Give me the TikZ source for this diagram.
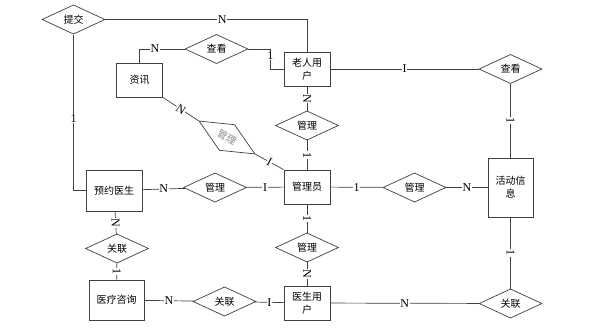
\documentclass[tikz,border=0pt]{standalone}
\usepackage{fontspec}
\setmainfont{Liberation Serif}
\newfontfamily\cjk{Noto Sans CJK SC}
\usetikzlibrary{shapes.geometric}
\definecolor{erLine}{HTML}{404040}
\definecolor{erGray}{HTML}{8A8A8A}
\tikzset{
  entBox/.style={rectangle, draw=erLine, line width=0.9pt, fill=white,
                 align=center, font=\cjk\fontsize{10}{13}\selectfont,
                 inner sep=1pt, minimum width=46pt, minimum height=34pt},
  relBox/.style={diamond, draw=erLine, line width=0.7pt, fill=white,
                 font=\cjk\fontsize{10}{13}\selectfont, inner sep=0pt,
                 minimum width=63pt, minimum height=29pt},
  link/.style={draw=erLine, line width=0.7pt},
  card/.style={fill=white, inner sep=0.6pt, font=\fontsize{12}{12}\selectfont},
  cardV/.style={card, rotate=-90},
}
\begin{document}
\begin{tikzpicture}[x=1pt, y=-1pt]
    \useasboundingbox (0,0) rectangle (601,332);
    \node[entBox] (zixun)   at (139.5,80)  {资讯};
    \node[entBox] (laoren)  at (307,69)    {老人用\\户};
    \node[entBox] (admin)   at (307,187)   {管理员};
    \node[entBox, minimum width=56pt, minimum height=41pt] (yuyue) at (114,190.5) {预约医生};
    \node[entBox, minimum width=45pt, minimum height=59pt] (huodong) at (510.5,187.5) {活动信\\息};
    \node[entBox, minimum width=55pt, minimum height=40pt] (yiliao) at (116.5,300) {医疗咨询};
    \node[entBox] (yisheng) at (307,303)   {医生用\\户};
    \node[relBox] (tijiao)    at (73.5,19.5)  {提交};
    \node[relBox] (chakanA)   at (216.5,49)   {查看};
    \node[relBox] (chakanB)   at (510.5,69)   {查看};
    \node[relBox] (guanliA)   at (307,125.5)  {管理};
    \node[relBox] (guanliB)   at (215,187.5)  {管理};
    \node[relBox] (guanliC)   at (414.5,187.5) {管理};
    \node[relBox] (guanliD)   at (307,247.5)  {管理};
    \node[relBox] (guanlianA) at (117,248.5)  {关联};
    \node[relBox] (guanlianB) at (224.5,301.5) {关联};
    \node[relBox] (guanlianC) at (510.5,303.5) {关联};
    \node[relBox, rotate=-30.5, minimum width=65pt, minimum height=30pt,
          text=erGray] (tilt) at (227,137.5) {管理};
    \draw[link] (tijiao.east) -| node[card, pos=0.29] {N} (laoren.north);
    \draw[link] (tijiao.south) |- node[card, pos=0.27] {1} (yuyue.west);
    \draw[link] (chakanA.west) -| node[card, pos=0.33] {N} (zixun.north);
    \draw[link] (chakanA.east) -- ++(22,0) |- node[card, pos=0.17] {1} (laoren.west);
    \draw[link] (laoren) -- node[card] {I} (chakanB);
    \draw[link] (chakanB) -- node[cardV] {1} (huodong);
    \draw[link] (laoren) -- node[cardV] {N} (guanliA);
    \draw[link] (guanliA) -- node[cardV] {1} (admin);
    \draw[link] (zixun.south east) -- node[card, sloped] {N} (tilt.west);
    \draw[link] (tilt.east) -- node[card, sloped] {I} (admin.north west);
    \draw[link] (yuyue) -- node[card] {N} (guanliB);
    \draw[link] (guanliB) -- node[card] {I} (admin);
    \draw[link] (admin) -- node[card] {1} (guanliC);
    \draw[link] (guanliC) -- node[card] {N} (huodong);
    \draw[link] (yuyue) -- node[cardV] {N} (guanlianA);
    \draw[link] (guanlianA) -- node[cardV] {1} (yiliao);
    \draw[link] (admin) -- node[cardV] {1} (guanliD);
    \draw[link] (guanliD) -- node[cardV] {N} (yisheng);
    \draw[link] (yiliao) -- node[card] {N} (guanlianB);
    \draw[link] (guanlianB) -- node[card] {I} (yisheng);
    \draw[link] (yisheng) -- node[card] {N} (guanlianC);
    \draw[link] (guanlianC) -- node[cardV] {1} (huodong);
\end{tikzpicture}
\end{document}
